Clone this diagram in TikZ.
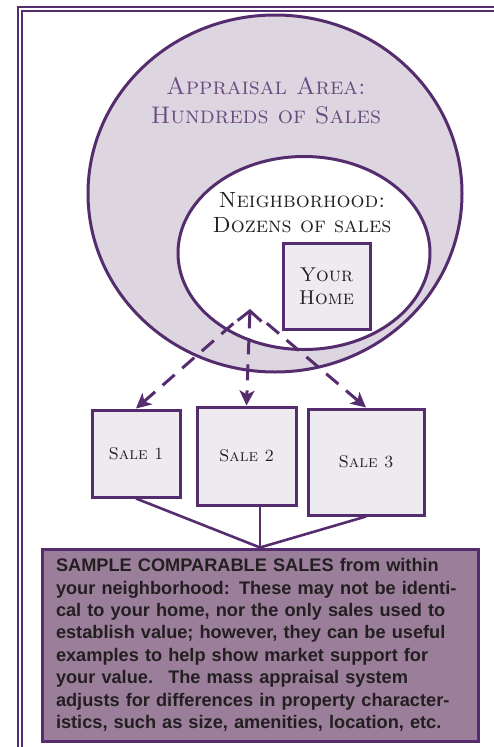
\documentclass[tikz,border=0pt]{standalone}
\usepackage{fontspec}
\newfontfamily\infofont{Liberation Sans}
\usetikzlibrary{arrows.meta, positioning, shapes.geometric}
\definecolor{cpurple}{HTML}{552D6E}
\definecolor{clilac}{HTML}{DDD6E1}
\definecolor{cbox}{HTML}{EEEBF0}
\definecolor{cmauve}{HTML}{9A7E9A}
\definecolor{ctitle}{HTML}{6A4C80}
\definecolor{cink}{HTML}{231F20}
\tikzset{
  every picture/.style={line width=3pt},
  region/.style={ellipse, draw=cpurple, fill=#1, inner sep=0pt},
  region/.default=white,
  heading/.style 2 args={align=center, text=cink, font=\fontsize{#1}{#2}\selectfont\scshape},
  salebox/.style={draw=cpurple, fill=cbox, inner sep=0pt, align=center, text=cink, font=\fontsize{17}{22}\selectfont\scshape},
  dasharrow/.style={draw=cpurple, dash pattern=on 16pt off 10pt, -{Stealth[length=15pt, width=15pt, inset=4pt]}},
  twoway/.style={dasharrow, {Straight Barb[length=10pt, width=24pt]}-{Stealth[length=15pt, width=15pt, inset=4pt]}},
  link/.style={draw=cpurple, line width=2.6pt},
}
\begin{document}
\begin{tikzpicture}[x=1pt, y=-1pt]
  \useasboundingbox (0,0) rectangle (494,747);
  \clip (0,0) rectangle (494,747);
  % double frame, running off the page
  \draw[cpurple, line width=1.4pt] (18,7) rectangle (540,800);
  \draw[cpurple, line width=1.4pt] (22,11) rectangle (536,796);
  % appraisal area and neighborhood
  \node[region=clilac, minimum width=374pt, minimum height=357pt] (area) at (275,193.5) {};
  \node[region, minimum width=252pt, minimum height=193pt] (hood) at (304,253) {};
  \node[heading={24}{29}, text=ctitle] (areatext) at (266,101) {Appraisal Area:\\Hundreds of Sales};
  \node[heading={22}{25}] (hoodtext) at (302,213) {Neighborhood:\\Dozens of sales};
  \node[salebox, font=\fontsize{20}{23}\selectfont\scshape, minimum width=87pt, minimum height=86pt] (home) at (326.5,286) {Your\\Home};
  % comparable sales
  \node[salebox, minimum width=88pt, minimum height=87pt] (sale1) at (136,453.5) {Sale 1};
  \node[salebox, minimum width=99pt, minimum height=98pt] (sale2) at (246.5,456) {Sale 2};
  \node[salebox, minimum width=116pt, minimum height=106pt] (sale3) at (366,462) {Sale 3};
  \coordinate (apex) at (250,309);
  \draw[dasharrow, shorten <=22pt] (apex) -- (sale1.north);
  \draw[twoway] (apex) -- (sale2.north);
  \draw[dasharrow, shorten <=22pt] (apex) -- (sale3.north);
  % explanation
  \node[draw=cpurple, fill=cmauve, minimum width=436pt, minimum height=192pt, text width=408pt,
        align=left, text=cink, font=\infofont\bfseries\fontsize{18.2}{22.4}\selectfont] (info) at (260,645)
    {SAMPLE COMPARABLE SALES from within\\
     your neighborhood: These may not be identi-\\
     cal to your home, nor the only sales used to\\
     establish value; however, they can be useful\\
     examples to help show market support for\\
     your value. \ The mass appraisal system\\
     adjusts for differences in property character-\\
     istics, such as size, amenities, location, etc.};
  \coordinate (hub) at (info.north);
  \draw[link] (sale1.south) -- (hub);
  \draw[link] (sale2.south -| hub) -- (hub);
  \draw[link] (sale3.south) -- (hub);
\end{tikzpicture}
\end{document}
